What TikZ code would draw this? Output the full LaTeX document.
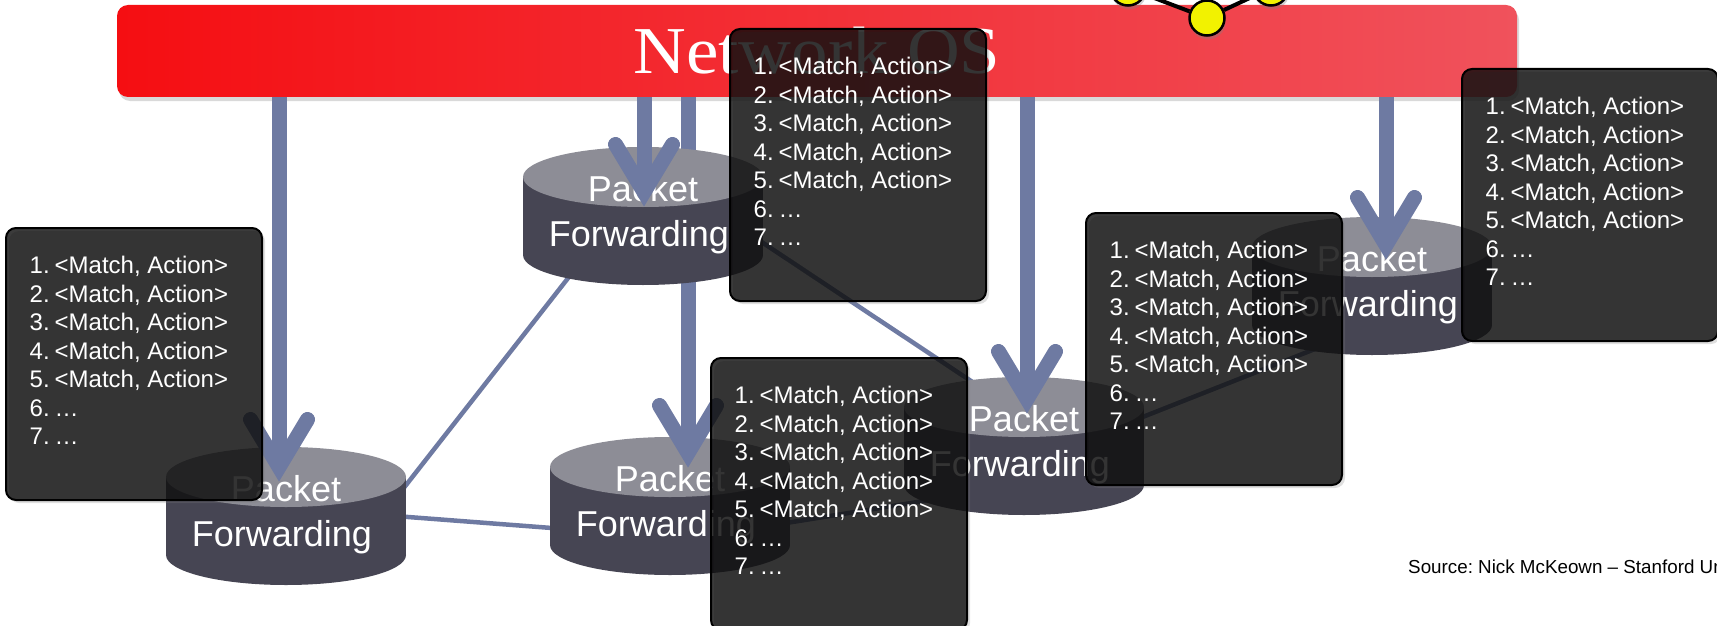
\documentclass[tikz,border=0pt]{standalone}
\usepackage{fontspec}
\usepackage{graphicx}
\setmainfont{Liberation Sans}
\newfontfamily\osfont{Liberation Serif}
\usetikzlibrary{shadows}
\frenchspacing

\definecolor{linkblue}{RGB}{110,122,162}
\definecolor{cyltopc}{RGB}{141,141,150}
\definecolor{cylbodyc}{RGB}{70,69,83}
\definecolor{boxfill}{RGB}{10,10,10}
\definecolor{osleft}{RGB}{245,14,18}
\definecolor{osright}{RGB}{240,82,92}
\definecolor{nodeyellow}{RGB}{242,242,0}

\pgfdeclarelayer{linklayer}
\pgfsetlayers{linklayer,main}

% one numbered entry of a flow table
\newcommand\entrynum[1]{\makebox[25pt][l]{#1}}
\newcommand\flowtable{%
  \begin{tabular}[t]{@{}l@{}}
  \entrynum{1.}<Match, Action>\\
  \entrynum{2.}<Match, Action>\\
  \entrynum{3.}<Match, Action>\\
  \entrynum{4.}<Match, Action>\\
  \entrynum{5.}<Match, Action>\\
  \entrynum{6.}…\\
  \entrynum{7.}…
  \end{tabular}}

% thick control arrow from the OS bar down to a tip coordinate
\newcommand\feed[1]{%
  \draw[shaft] (os.south -| #1) -- ([shift={(0,-15)}]#1);
  \draw[barb] ([shift={(-28.5,-62.5)}]#1) -- ([shift={(0,-15)}]#1) -- ([shift={(28.5,-62.5)}]#1);
}

\tikzset{
  link/.style={draw=linkblue, line width=4.5pt},
  shaft/.style={draw=linkblue, line width=15pt},
  barb/.style={draw=linkblue, line width=15pt, line cap=round, line join=miter},
  cyllabel/.style={anchor=base, text=white, inner sep=0pt, font=\fontsize{36}{40}\selectfont},
  tablebox/.style={draw=black, line width=2pt, fill=boxfill, fill opacity=0.8,
    rounded corners=10pt, minimum width=256pt, minimum height=272pt,
    anchor=north west, inner sep=0pt,
    drop shadow={shadow xshift=3pt, shadow yshift=-3pt, opacity=0.25}},
  tabletext/.style={anchor=base west, text=white, inner sep=0pt,
    font=\fontsize{24}{28.5}\selectfont},
  osbar/.style={rounded corners=11pt, minimum width=1400pt, minimum height=92pt,
    inner sep=0pt, left color=osleft, right color=osright, text=white,
    font=\osfont\fontsize{67}{67}\selectfont,
    drop shadow={shadow xshift=2pt, shadow yshift=-4pt, opacity=0.3}},
  graphnode/.style={circle, draw=black, line width=2.5pt, fill=nodeyellow,
    minimum size=35pt, inner sep=0pt,
    drop shadow={shadow xshift=1pt, shadow yshift=-4pt, opacity=0.35}},
  graphedge/.style={draw=black, line width=4pt},
  pics/pktfwd/.style={code={
    \fill[cylbodyc] (0,78) ellipse[x radius=120, y radius=30];
    \fill[cylbodyc] (-120,0) rectangle (120,78);
    \fill[cyltopc] (0,0) ellipse[x radius=120, y radius=30];
    \coordinate (-top) at (0,0);
    \node[cyllabel] (-upper) at (0,24) {Packet};
    \node[cyllabel] (-lower) at (-4,69) {Forwarding};
  }},
}

\begin{document}
\begin{tikzpicture}[x=1pt, y=-1pt]
\useasboundingbox (0,0) rectangle (1717,626);
\clip (0,0) rectangle (1717,626);

% network operating system
\node[osbar] (os) at (817,51) {\scalebox{1.09}[1]{Network OS}};

% forwarding elements and control arrows
\pic (cyl1) at (286,477) {pktfwd};
\pic (cyl3) at (670,467) {pktfwd};
\pic (cyl4) at (1024,407) {pktfwd};
\pic (cyl5) at (1372,247) {pktfwd};

\coordinate (t3) at ([shift={(18,1)}]cyl3-top);
\feed{t3}

\pic (cyl2) at (643,177) {pktfwd};

\coordinate (t1) at ([shift={(-7,5)}]cyl1-top);
\coordinate (t2) at ([shift={(1,30)}]cyl2-top);
\coordinate (t4) at ([shift={(3,7)}]cyl4-top);
\coordinate (t5) at ([shift={(14,13)}]cyl5-top);
\feed{t1}
\feed{t2}
\feed{t4}
\feed{t5}

% data-plane links between the forwarding elements
\begin{pgfonlayer}{linklayer}
  \draw[link] ([shift={(-60,82)}]cyl2-top) -- ([shift={(106,26)}]cyl1-top);
  \draw[link] ([shift={(109,39)}]cyl1-top) -- ([shift={(-105,62)}]cyl3-top);
  \draw[link] ([shift={(102,54)}]cyl2-top) -- ([shift={(-44,-20)}]cyl4-top);
  \draw[link] ([shift={(110,57)}]cyl3-top) -- ([shift={(-94,93)}]cyl4-top);
  \draw[link] ([shift={(106,15)}]cyl4-top) -- ([shift={(-52,100)}]cyl5-top);
\end{pgfonlayer}

% small topology graph on top of the bar
\node[graphnode] (ga) at (1128,-12) {};
\node[graphnode] (gb) at (1207,18) {};
\node[graphnode] (gc) at (1271,-12) {};
\draw[graphedge] (ga) -- (gb) -- (gc);

% flow tables
\node[tablebox] (b1) at (5,227) {};
\node[tablebox] (b2) at (729,28) {};
\node[tablebox] (b3) at (710,357) {};
\node[tablebox] (b4) at (1085,212) {};
\node[tablebox] (b5) at (1461,68) {};
\foreach \b in {b1,b2,b3,b4,b5}
  \node[tabletext] (\b-list) at ([shift={(24.5,46.5)}]\b.north west) {\flowtable};

% credit line
\node[anchor=base west, inner sep=0pt, font=\fontsize{18.8}{20}\selectfont] (src)
  at (1408,573) {Source: Nick McKeown -- Stanford Un};
\end{tikzpicture}
\end{document}
